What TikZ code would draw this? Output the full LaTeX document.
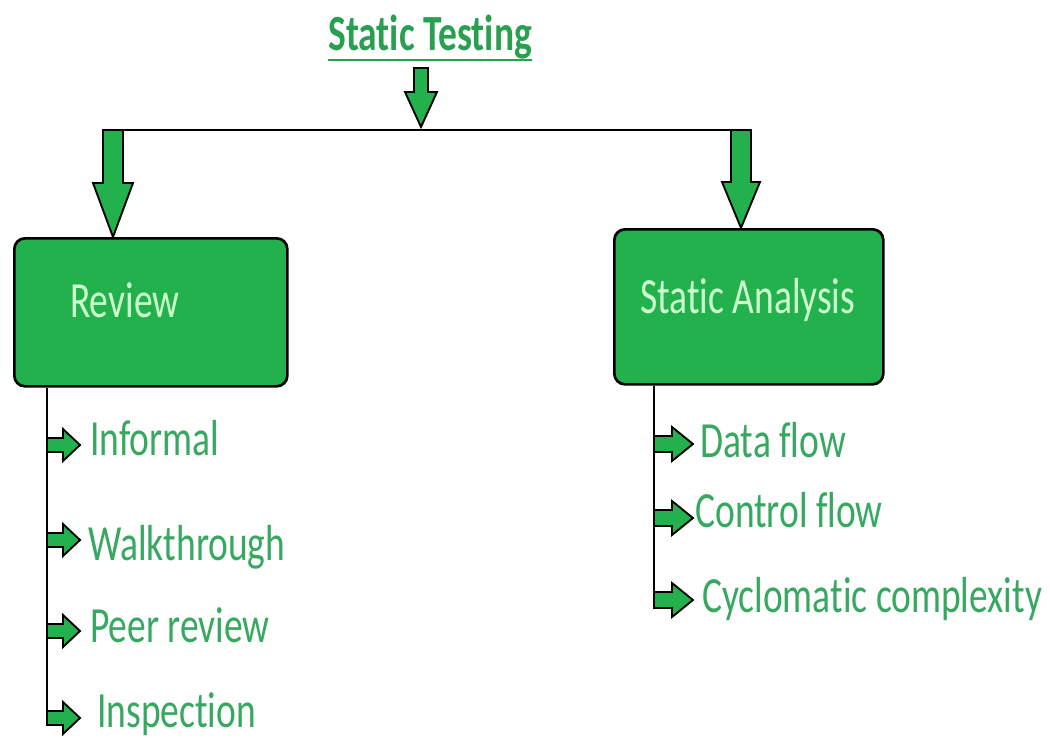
\documentclass[tikz,border=0pt]{standalone}
\usepackage{fontspec}
\setmainfont{Carlito}[Ligatures=NoCommon]
\definecolor{boxgreen}{RGB}{34,177,76}
\definecolor{txtgreen}{RGB}{55,168,95}
\definecolor{lightgreen}{RGB}{205,255,205}
\definecolor{titlegreen}{RGB}{40,160,80}
\newcommand\sqz[1]{\scalebox{0.74}[1]{#1}}
% down block arrow: x centre, y top, head base y, tip y, shaft half, head half
\newcommand\dnblock[6]{%
  \path[blockarrow] ({#1-#5},#2) -- ({#1+#5},#2) -- ({#1+#5},#3) -- ({#1+#6},#3)
    -- (#1,#4) -- ({#1-#6},#3) -- ({#1-#5},#3) -- cycle;}
% right block arrow: x start, y centre, head base x, tip x, shaft half, head half
\newcommand\rtblock[6]{%
  \path[blockarrow] (#1,{#2-#5}) -- (#3,{#2-#5}) -- (#3,{#2-#6}) -- (#4,#2)
    -- (#3,{#2+#6}) -- (#3,{#2+#5}) -- (#1,{#2+#5}) -- cycle;}
\begin{document}
\begin{tikzpicture}[x=0.75pt,y=-0.75pt,
  box/.style={draw=black,line width=2pt,fill=boxgreen,rounded corners=8pt,inner sep=0pt},
  conn/.style={draw=black,line width=1.6pt},
  blockarrow/.style={draw=black,line width=1.4pt,fill=boxgreen,line join=miter},
  item/.style={anchor=base west,inner sep=0pt,text=txtgreen,font=\fontsize{38}{42}\selectfont},
  boxtext/.style={anchor=base west,inner sep=0pt,text=lightgreen,font=\fontsize{38}{42}\selectfont}]
\useasboundingbox[fill=white] (0,0) rectangle (1050,740);

% title
\node[anchor=base west,inner sep=0pt,text=titlegreen,font=\bfseries\fontsize{38}{42}\selectfont] (title) at (328,50) {\sqz{Static Testing}};
\draw[titlegreen,line width=1.5pt] ([yshift=-7.5pt]title.base west) -- ([yshift=-7.5pt]title.base east);

% boxes
\node[box,anchor=north west,minimum width=204.75pt,minimum height=111pt] (review) at (13,237) {};
\node[box,anchor=north west,minimum width=201.75pt,minimum height=116.25pt] (analysis) at (613,228) {};
\node[boxtext] (reviewtxt) at (70,317) {\sqz{Review}};
\node[boxtext] (analysistxt) at (640,313) {\sqz{Static Analysis}};

% branch line
\coordinate (bl) at (103,130);
\coordinate (br) at (751,130);
\draw[conn] (bl) -- (br);

% block arrows
\dnblock{421}{68}{92}{127}{7}{16}
\dnblock{113}{130}{183}{237}{10}{20}
\dnblock{741}{130}{182}{228}{10}{19}

% left list
\coordinate (lend) at (47,720);
\draw[conn] (review.south west -| lend) -- (lend);
\rtblock{47}{445}{63}{80}{7}{16}
\rtblock{47}{540}{63}{80}{7}{16}
\rtblock{47}{631}{63}{80}{7}{16}
\rtblock{47}{718}{63}{80}{7}{16}
\node[item] (informal) at (90,455) {\sqz{Informal}};
\node[item] (walk) at (88,560) {\sqz{Walkthrough}};
\node[item] (peer) at (90,642) {\sqz{Peer review}};
\node[item] (insp) at (97,727) {\sqz{Inspection}};

% right list
\coordinate (rend) at (654,602);
\draw[conn] (analysis.south west -| rend) -- (rend);
\rtblock{654}{444}{672}{693}{8}{17}
\rtblock{654}{518}{672}{693}{8}{17}
\rtblock{654}{600}{672}{693}{8}{17}
\node[item] (dataflow) at (700,457) {\sqz{Data flow}};
\node[item] (ctrlflow) at (695,527) {\sqz{Control flow}};
\node[item] (cyclo) at (702,612) {\sqz{Cyclomatic complexity}};
\end{tikzpicture}
\end{document}
